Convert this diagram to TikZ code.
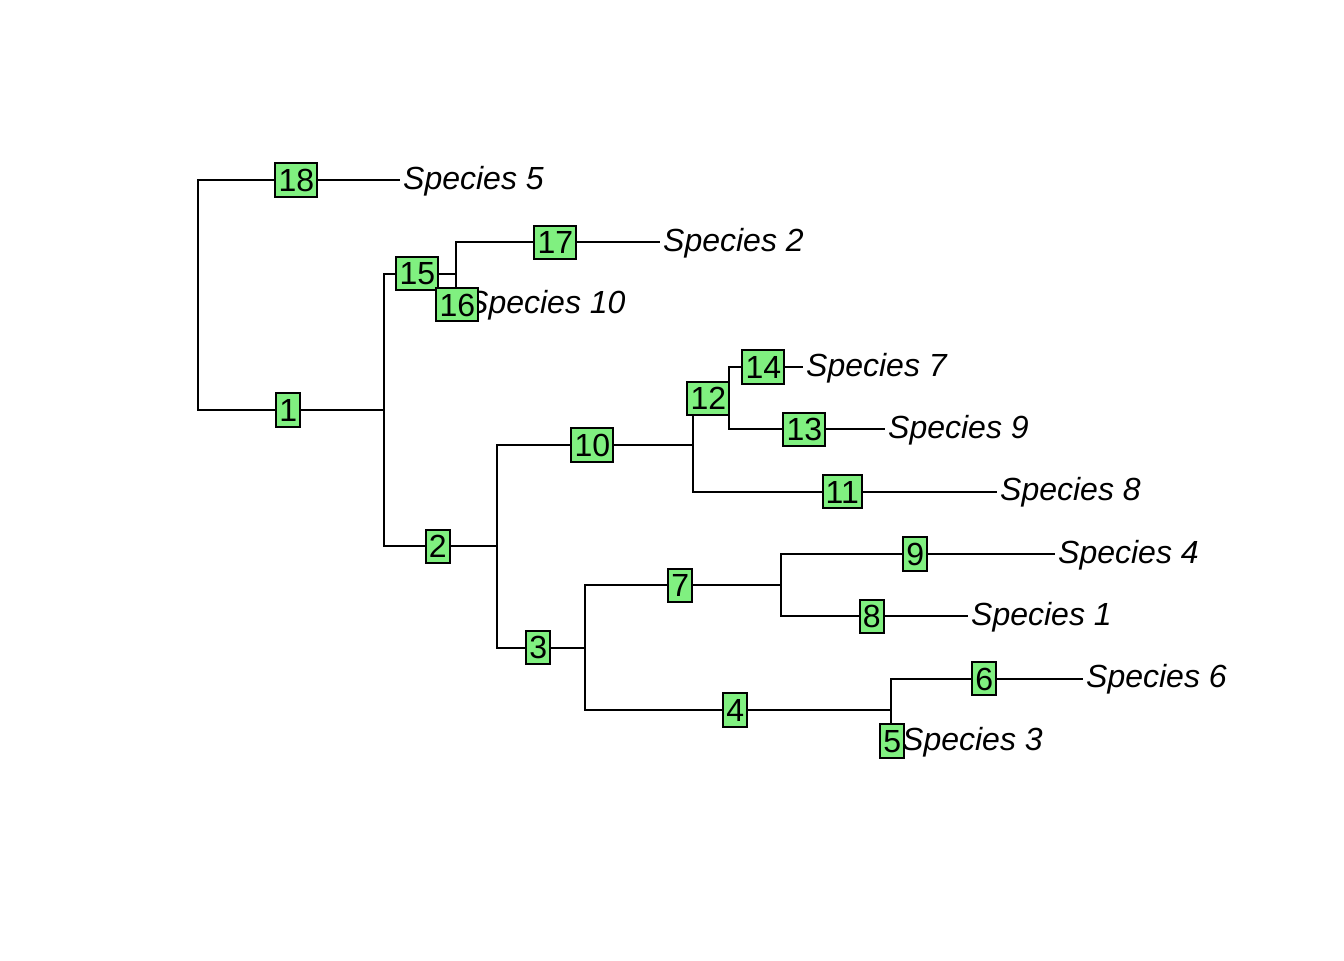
\documentclass[tikz,border=0pt]{standalone}
\usepackage{fontspec}
\setmainfont{Liberation Sans}
\usetikzlibrary{calc}
\definecolor{boxgreen}{RGB}{128,240,128}
\begin{document}
\begin{tikzpicture}[x=0.375pt,y=-0.375pt,
    branch/.style = {line width=0.75pt},
    edgelab/.style = {draw,line width=0.75pt,fill=boxgreen,inner xsep=1.2pt,inner ysep=0pt,
                      minimum height=12.5pt,text height=8.6pt,text depth=0pt,xshift=-1pt,font=\fontsize{12}{14}\selectfont},
    tiplab/.style = {anchor=base west,inner sep=0pt,xshift=1pt,yshift=-3.4pt,font=\fontsize{12}{14}\selectfont\itshape}]
                \useasboundingbox (0,0) rectangle (1344,960);
                % internal nodes
                \coordinate (root) at (198,295);
                \coordinate (nA) at (384,409.9);
                \coordinate (nB) at (456,273.5);
                \coordinate (nC) at (497,546.2);
                \coordinate (nD) at (693,445);
                \coordinate (nE) at (729,398.2);
                \coordinate (nF) at (585,647.5);
                \coordinate (nG) at (781,585.2);
                \coordinate (nH) at (891,709.9);
                % tips
                \coordinate (t5) at (400,180);
                \coordinate (t2) at (660,242.3);
                \coordinate (t10) at (464,304.7);
                \coordinate (t7) at (803,367);
                \coordinate (t9) at (885,429.3);
                \coordinate (t8) at (997,491.7);
                \coordinate (t4) at (1055,554);
                \coordinate (t1) at (968,616.3);
                \coordinate (t6) at (1083,678.7);
                \coordinate (t3) at (899,741);

                \draw[branch] (root) |- (t5);
                \draw[branch] (root) |- (nA);
                \draw[branch] (nA) |- (nB);
                \draw[branch] (nB) |- (t2);
                \draw[branch] (nB) |- (t10);
                \draw[branch] (nA) |- (nC);
                \draw[branch] (nC) |- (nD);
                \draw[branch] (nD) |- (nE);
                \draw[branch] (nE) |- (t7);
                \draw[branch] (nE) |- (t9);
                \draw[branch] (nD) |- (t8);
                \draw[branch] (nC) |- (nF);
                \draw[branch] (nF) |- (nG);
                \draw[branch] (nG) |- (t4);
                \draw[branch] (nG) |- (t1);
                \draw[branch] (nF) |- (nH);
                \draw[branch] (nH) |- (t6);
                \draw[branch] (nH) |- (t3);

                \node[tiplab] (s5) at (t5) {Species 5};
                \node[tiplab] (s2) at (t2) {Species 2};
                \node[tiplab] (s10) at (t10) {Species 10};
                \node[tiplab] (s7) at (t7) {Species 7};
                \node[tiplab] (s9) at (t9) {Species 9};
                \node[tiplab] (s8) at (t8) {Species 8};
                \node[tiplab] (s4) at (t4) {Species 4};
                \node[tiplab] (s1) at (t1) {Species 1};
                \node[tiplab] (s6) at (t6) {Species 6};
                \node[tiplab] (s3) at (t3) {Species 3};

                % edge labels at branch midpoints
                \node[edgelab] (e18) at ($(root |- t5)!0.5!(t5)$) {18};
                \node[edgelab] (e1) at ($(root |- nA)!0.5!(nA)$) {1};
                \node[edgelab] (e15) at ($(nA |- nB)!0.5!(nB)$) {15};
                \node[edgelab] (e17) at ($(nB |- t2)!0.5!(t2)$) {17};
                \node[edgelab] (e16) at ($(nB |- t10)!0.5!(t10)$) {16};
                \node[edgelab] (e2) at ($(nA |- nC)!0.5!(nC)$) {2};
                \node[edgelab] (e10) at ($(nC |- nD)!0.5!(nD)$) {10};
                \node[edgelab] (e12) at ($(nD |- nE)!0.5!(nE)$) {12};
                \node[edgelab] (e14) at ($(nE |- t7)!0.5!(t7)$) {14};
                \node[edgelab] (e13) at ($(nE |- t9)!0.5!(t9)$) {13};
                \node[edgelab] (e11) at ($(nD |- t8)!0.5!(t8)$) {11};
                \node[edgelab] (e3) at ($(nC |- nF)!0.5!(nF)$) {3};
                \node[edgelab] (e7) at ($(nF |- nG)!0.5!(nG)$) {7};
                \node[edgelab] (e9) at ($(nG |- t4)!0.5!(t4)$) {9};
                \node[edgelab] (e8) at ($(nG |- t1)!0.5!(t1)$) {8};
                \node[edgelab] (e4) at ($(nF |- nH)!0.5!(nH)$) {4};
                \node[edgelab] (e6) at ($(nH |- t6)!0.5!(t6)$) {6};
                \node[edgelab] (e5) at ($(nH |- t3)!0.5!(t3)$) {5};
            \end{tikzpicture}
\end{document}
